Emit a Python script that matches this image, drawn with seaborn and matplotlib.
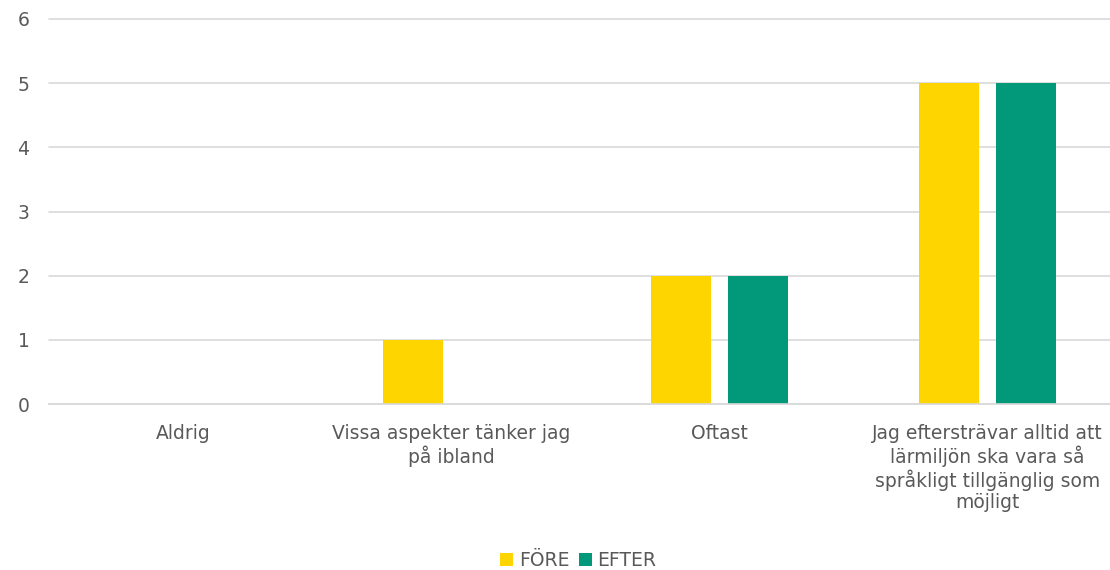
import matplotlib
matplotlib.use("Agg")
import matplotlib.pyplot as plt
import seaborn as sns
import pandas as pd

categories = [
    "Aldrig",
    "Vissa aspekter tänker jag\npå ibland",
    "Oftast",
    "Jag eftersträvar alltid att\nlärmiljön ska vara så\nspråkligt tillgänglig som\nmöjligt",
]
series_names = ["FÖRE", "EFTER"]
fore_values = [0, 1, 2, 5]
efter_values = [0, 0, 2, 5]
y_ticks = [0, 1, 2, 3, 4, 5, 6]

colors = {"FÖRE": "#FFD500", "EFTER": "#02987A"}
text_color = "#595959"
grid_color = "#D9D9D9"

df = pd.DataFrame({
    "kategori": categories * 2,
    "serie": [series_names[0]] * len(categories) + [series_names[1]] * len(categories),
    "antal": fore_values + efter_values,
})

sns.set_theme(style="white")
plt.rcParams["font.family"] = ["DejaVu Sans"]

fig = plt.figure(figsize=(11.1, 5.7), dpi=100)
ax = fig.add_axes([49 / 1110, 166 / 570, 1 - 49 / 1110, (551 - 166) / 570])

sns.barplot(
    data=df, x="kategori", y="antal", hue="serie",
    order=categories, hue_order=series_names, palette=colors, saturation=1,
    width=0.575, gap=0.22, linewidth=0, errorbar=None, ax=ax,
)

ax.set_ylim(0, 6)
ax.set_yticks(y_ticks)
ax.set_xlim(-0.5, 3.457)
ax.yaxis.grid(True, color=grid_color, linewidth=1.2)
for gl in ax.get_ygridlines():
    gl.set_clip_on(False)
ax.set_axisbelow(True)
for side in ["top", "right", "left"]:
    ax.spines[side].set_visible(False)
ax.spines["bottom"].set_color(grid_color)
ax.spines["bottom"].set_linewidth(1.2)
ax.tick_params(axis="both", length=0, labelsize=13.5, labelcolor=text_color)
ax.tick_params(axis="y", pad=14)
ax.tick_params(axis="x", pad=14.5)
for lbl in ax.get_xticklabels():
    lbl.set_linespacing(1.13)
ax.set_xlabel("")
ax.set_ylabel("")

handles, labels = ax.get_legend_handles_labels()
ax.legend(
    handles, labels, loc="lower center", bbox_to_anchor=(0.521, -0.029),
    bbox_transform=fig.transFigure, ncol=2, frameon=False,
    fontsize=13.5, labelcolor=text_color, handlelength=0.7, handleheight=0.7,
    handletextpad=0.3, columnspacing=0.5,
)

fig.savefig("out.png", dpi=100)
